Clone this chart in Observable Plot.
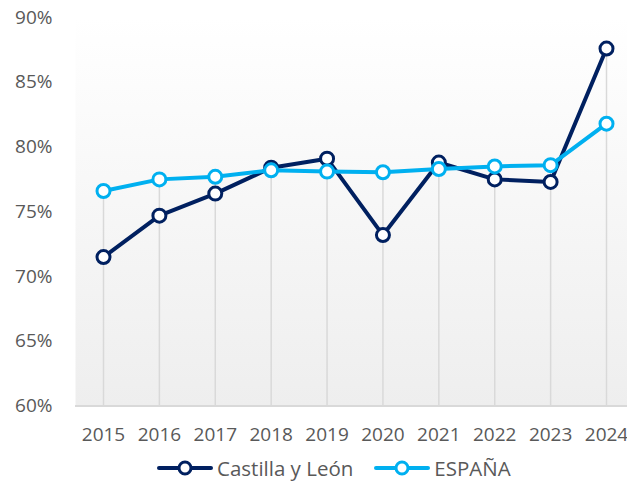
<!DOCTYPE html>
<html><head><meta charset="utf-8">
<script src="https://cdn.jsdelivr.net/npm/d3@7"></script>
<script src="https://cdn.jsdelivr.net/npm/@observablehq/plot@0.6"></script>
<style>
body{margin:0;background:#fff;font-family:"Open Sans",sans-serif;}
#legend{display:flex;align-items:center;height:40px;padding-left:157px;font-size:20.5px;color:#595959;}
.item{display:flex;align-items:center;margin-right:21px}
.item svg{margin-right:4px}
</style></head><body><div id="chart"></div><div id="legend"></div>
<script>
const years = ["2015","2016","2017","2018","2019","2020","2021","2022","2023","2024"];
const castillaLeon = [71.5,74.7,76.4,78.4,79.1,73.2,78.8,77.5,77.3,87.6];
const espana = [76.6,77.5,77.7,78.2,78.1,78.05,78.3,78.5,78.6,81.8];
const seriesNames = ["Castilla y León","ESPAÑA"];
const seriesColors = ["#002060","#00B0F0"];
const yTicks = [60,65,70,75,80,85,90];

const rows = [];
years.forEach((y,i)=>{
  rows.push({year:y, series:seriesNames[0], value:castillaLeon[i]});
  rows.push({year:y, series:seriesNames[1], value:espana[i]});
});
const maxRows = years.map((y,i)=>({year:y, top:Math.max(castillaLeon[i], espana[i])}));
const cyl = rows.filter(d=>d.series===seriesNames[0]);
const esp = rows.filter(d=>d.series===seriesNames[1]);

const chart = Plot.plot({
  width:627, height:448,
  marginLeft:75, marginRight:0, marginTop:17, marginBottom:42.5,
  style:{fontFamily:'"Open Sans",sans-serif', background:"transparent"},
  x:{type:"point", domain:years, range:[103,606], padding:0, round:false},
  y:{domain:[60,90]},
  color:{domain:seriesNames, range:seriesColors},
  marks:[
    Plot.frame({fill:"url(#bgGrad)", stroke:null}),
    Plot.ruleX(maxRows,{x:"year", y1:60, y2:"top", stroke:"#d9d9d9", strokeWidth:1.5}),
    Plot.ruleY([60],{stroke:"#d9d9d9", strokeWidth:2}),
    Plot.axisY({ticks:yTicks, tickFormat:d=>d+"%", tickSize:0, tickPadding:23, fontSize:19, color:"#595959", label:null}),
    Plot.axisX({tickSize:0, tickPadding:21, fontSize:19, color:"#595959", label:null}),
    Plot.line(cyl,{x:"year", y:"value", stroke:"series", strokeWidth:4}),
    Plot.dot(cyl,{x:"year", y:"value", stroke:"series", fill:"white", r:6.5, strokeWidth:3}),
    Plot.line(esp,{x:"year", y:"value", stroke:"series", strokeWidth:4}),
    Plot.dot(esp,{x:"year", y:"value", stroke:"series", fill:"white", r:6.5, strokeWidth:3})
  ]
});
const svg = d3.select(chart);
const defs = svg.insert("defs",":first-child");
const g = defs.append("linearGradient").attr("id","bgGrad").attr("x1",0).attr("y1",0).attr("x2",0).attr("y2",1);
g.append("stop").attr("offset","0%").attr("stop-color","#ffffff");
g.append("stop").attr("offset","100%").attr("stop-color","#eeeeee");
document.getElementById("chart").appendChild(chart);

const legend = d3.select("#legend");
seriesNames.forEach((name,i)=>{
  const it = legend.append("div").attr("class","item");
  const s = it.append("svg").attr("width",56).attr("height",20);
  s.append("line").attr("x1",2).attr("x2",54).attr("y1",10).attr("y2",10).attr("stroke",seriesColors[i]).attr("stroke-width",4).attr("stroke-linecap","round");
  s.append("circle").attr("cx",28).attr("cy",10).attr("r",6).attr("fill","white").attr("stroke",seriesColors[i]).attr("stroke-width",3);
  it.append("span").text(name);
});
</script></body></html>
